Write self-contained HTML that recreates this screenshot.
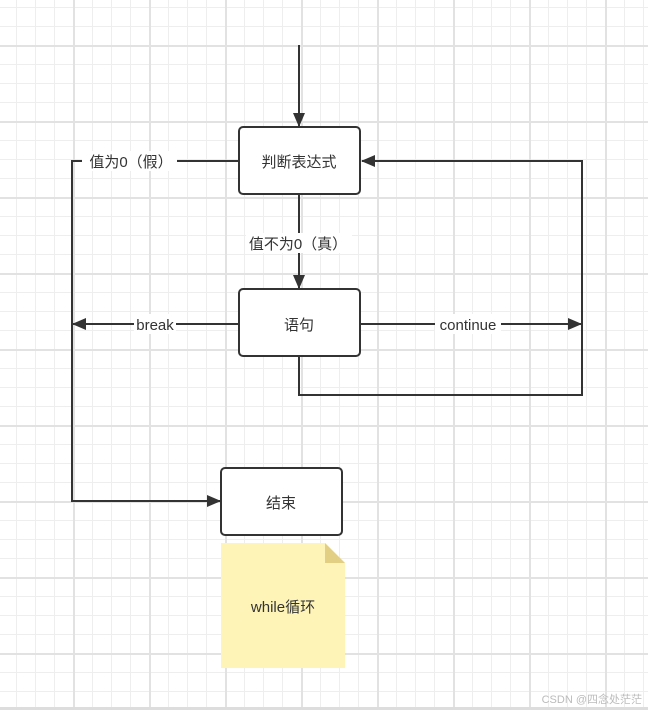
<!DOCTYPE html>
<html><head><meta charset="utf-8"><style>
html,body{margin:0;padding:0;}
body{width:648px;height:710px;overflow:hidden;background:#fff;
background-image:
linear-gradient(#e2e2e2 2px,transparent 2px),
linear-gradient(90deg,#e2e2e2 2px,transparent 2px),
linear-gradient(#eeeeee 1px,transparent 1px),
linear-gradient(90deg,#eeeeee 1px,transparent 1px);
background-size:76px 76px,76px 76px,19px 19px,19px 19px;
background-position:0 45px,73px 0,0 7px,16px 0;
font-family:"Liberation Sans","Noto Sans CJK SC",sans-serif;}
svg{position:absolute;left:0;top:0;}
</style></head><body>
<svg width="648" height="710" viewBox="0 0 648 710">
<defs><marker id="a" markerWidth="14" markerHeight="12" refX="13" refY="6" orient="auto" markerUnits="userSpaceOnUse"><path d="M0,0 L14,6 L0,12 Z" fill="#333"/></marker></defs>
<g stroke="#333" stroke-width="2" fill="none">
<line x1="299" y1="45" x2="299" y2="126" marker-end="url(#a)"/>
<line x1="299" y1="195" x2="299" y2="288" marker-end="url(#a)"/>
<polyline points="238,161 72,161 72,501 220,501" marker-end="url(#a)"/>
<line x1="238" y1="324" x2="73" y2="324" marker-end="url(#a)"/>
<line x1="361" y1="324" x2="581" y2="324" marker-end="url(#a)"/>
<polyline points="299,357 299,395 582,395 582,161 362,161" marker-end="url(#a)"/>
</g>
<g fill="#fff" stroke="#333" stroke-width="2">
<rect x="239" y="127" width="121" height="67" rx="4"/>
<rect x="239" y="289" width="121" height="67" rx="4"/>
<rect x="221" y="468" width="121" height="67" rx="4"/>
</g>
<path d="M221,543 L325,543 L345,563 L345,668 L221,668 Z" fill="#fff4b8"/>
<path d="M325,543 L345,563 L325,563 Z" fill="#e3cf84"/>
<g fill="#fff"><rect x="82" y="151" width="95" height="20"/><rect x="246" y="233" width="106" height="20"/><rect x="134" y="314" width="42" height="20"/><rect x="435" y="314" width="66" height="20"/></g>
<g font-size="15" fill="#333" text-anchor="middle" font-family="Liberation Sans, Noto Sans CJK SC, sans-serif">
<text x="299" y="167">判断表达式</text>
<text x="299" y="330">语句</text>
<text x="281" y="508">结束</text>
<text x="283" y="612">while循环</text>
<text x="131" y="167">值为0（假）</text>
<text x="298" y="249">值不为0（真）</text>
<text x="155" y="330">break</text>
<text x="468" y="330">continue</text>
</g>
<text x="642" y="703" font-size="11" fill="#bbb" text-anchor="end" font-family="Liberation Sans, Noto Sans CJK SC, sans-serif">CSDN @四念处茫茫</text>
<rect x="0" y="707" width="648" height="3" fill="#ddd"/>
</svg>
</body></html>
